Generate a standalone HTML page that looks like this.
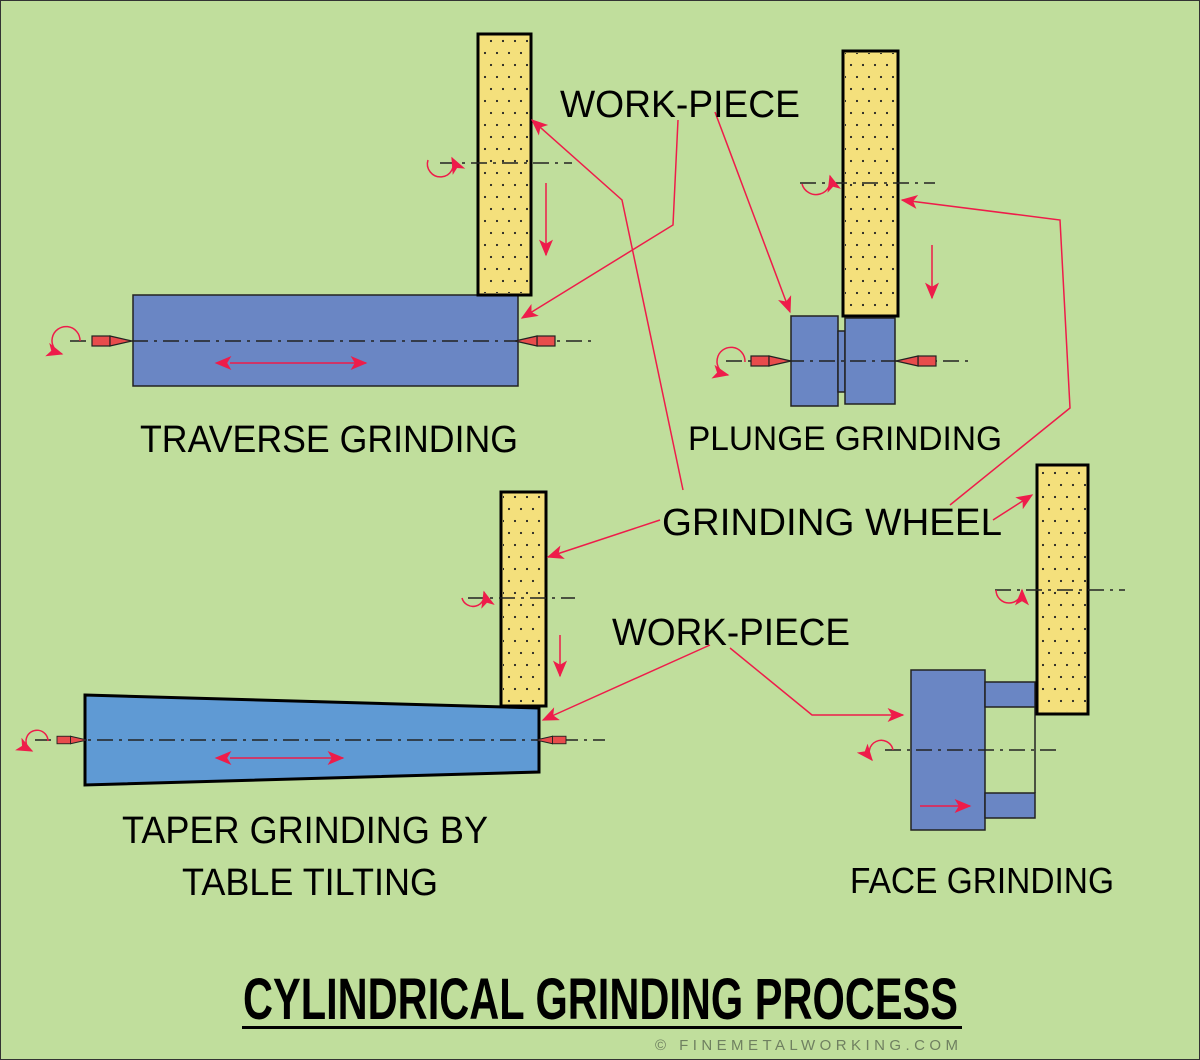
<!DOCTYPE html>
<html><head><meta charset="utf-8"><style>
html,body{margin:0;padding:0;background:#c0de9c}
svg{display:block}
text{font-family:"Liberation Sans",sans-serif}
</style></head><body>
<svg width="1200" height="1060" viewBox="0 0 1200 1060" xmlns="http://www.w3.org/2000/svg">
<defs>
<pattern id="dots" width="24" height="24" patternUnits="userSpaceOnUse">
<circle cx="5" cy="5" r="1.1" fill="#222"/><circle cx="17" cy="5" r="1.1" fill="#222"/>
<circle cx="11" cy="17" r="1.1" fill="#222"/><circle cx="23" cy="17" r="1.1" fill="#222"/>
</pattern>
<marker id="ah" viewBox="0 0 12 10" refX="11" refY="5" markerWidth="18" markerHeight="14" orient="auto" markerUnits="userSpaceOnUse">
<path d="M0,0 L12,5 L0,10 L3,5 z" fill="#ee1c4a"/></marker>
<marker id="ahs" viewBox="0 0 12 10" refX="1" refY="5" markerWidth="18" markerHeight="14" orient="auto-start-reverse" markerUnits="userSpaceOnUse">
<path d="M0,0 L12,5 L0,10 L3,5 z" fill="#ee1c4a"/></marker>
<g id="cenL"><rect x="0" y="-5" width="18" height="10" fill="#e84c4c" stroke="#222" stroke-width="1.2"/><path d="M18,-5 L40,0 L18,5 z" fill="#e84c4c" stroke="#222" stroke-width="1.2"/></g>
</defs>
<rect x="0" y="0" width="1200" height="1060" fill="#c0de9c"/>
<rect x="0.5" y="0.5" width="1199" height="1059" fill="none" stroke="#333" stroke-width="1"/>

<g fill="none" stroke="#ee1c4a" stroke-width="1.5">
<!-- traverse -->
<rect x="133" y="295" width="385" height="91" fill="#6a86c4" stroke="#222"/>
<line x1="70" y1="341" x2="595" y2="341" stroke="#222" stroke-dasharray="16,6,3,6"/>
<use href="#cenL" x="92" y="341"/>
<use href="#cenL" x="-555" y="341" transform="scale(-1,1)"/>
<path d="M80,341 A14,14 0 1 0 62,354" marker-end="url(#ah)"/>
<line x1="230" y1="363" x2="366" y2="363" marker-start="url(#ahs)" marker-end="url(#ah)"/>
<rect x="478" y="34" width="53" height="261" fill="#f4e07c" stroke="#000" stroke-width="3"/>
<rect x="480" y="36" width="49" height="257" fill="url(#dots)" stroke="none"/>
<line x1="440" y1="163" x2="572" y2="163" stroke="#222" stroke-dasharray="16,6,3,6"/>
<path d="M428,160 A13,13 0 1 0 452,158" marker-end="url(#ah)"/>
<line x1="546" y1="183" x2="546" y2="255" marker-end="url(#ah)"/>

<!-- plunge -->
<rect x="843" y="51" width="55" height="265" fill="#f4e07c" stroke="#000" stroke-width="3"/>
<rect x="845" y="53" width="51" height="261" fill="url(#dots)" stroke="none"/>
<line x1="800" y1="183" x2="935" y2="183" stroke="#222" stroke-dasharray="16,6,3,6"/>
<path d="M802,184 A14,14 0 1 0 830,176" marker-end="url(#ah)"/>
<line x1="932" y1="245" x2="932" y2="298" marker-end="url(#ah)"/>
<rect x="791" y="316" width="47" height="90" fill="#6a86c4" stroke="#222"/>
<rect x="838" y="331" width="7" height="61" fill="#6a86c4" stroke="#222"/>
<rect x="845" y="318" width="50" height="86" fill="#6a86c4" stroke="#222"/>
<line x1="726" y1="361" x2="968" y2="361" stroke="#222" stroke-dasharray="16,6,3,6"/>
<use href="#cenL" x="751" y="361"/>
<use href="#cenL" x="-936" y="361" transform="scale(-1,1)"/>
<path d="M745,362 A14,14 0 1 0 728,375" marker-end="url(#ah)"/>

<!-- taper -->
<polygon points="85,695 539,708 539,772 85,785" fill="#5f9ad4" stroke="#000" stroke-width="3"/>
<line x1="35" y1="740" x2="605" y2="740" stroke="#222" stroke-dasharray="16,6,3,6"/>
<g transform="translate(57,740) scale(0.75)"><use href="#cenL"/></g>
<g transform="translate(566,740) scale(-0.75,0.75)"><use href="#cenL"/></g>
<path d="M48,741 A11,11 0 1 0 32,751" marker-end="url(#ah)"/>
<line x1="230" y1="758" x2="343" y2="758" marker-start="url(#ahs)" marker-end="url(#ah)"/>
<rect x="501" y="492" width="45" height="214" fill="#f4e07c" stroke="#000" stroke-width="3"/>
<rect x="503" y="494" width="41" height="210" fill="url(#dots)" stroke="none"/>
<line x1="468" y1="598" x2="575" y2="598" stroke="#222" stroke-dasharray="16,6,3,6"/>
<path d="M462,598 A11,11 0 1 0 484,592" marker-end="url(#ah)"/>
<line x1="560" y1="635" x2="560" y2="676" marker-end="url(#ah)"/>

<!-- face -->
<rect x="911" y="670" width="74" height="160" fill="#6a86c4" stroke="#222"/>
<rect x="985" y="682" width="50" height="25" fill="#6a86c4" stroke="#222"/>
<rect x="985" y="793" width="50" height="25" fill="#6a86c4" stroke="#222"/>
<line x1="1035" y1="707" x2="1035" y2="793" stroke="#222"/>
<rect x="1037" y="465" width="51" height="249" fill="#f4e07c" stroke="#000" stroke-width="3"/>
<rect x="1039" y="467" width="47" height="245" fill="url(#dots)" stroke="none"/>
<line x1="995" y1="590" x2="1125" y2="590" stroke="#222" stroke-dasharray="16,6,3,6"/>
<path d="M996,590 A13,13 0 1 0 1022,590" marker-end="url(#ah)"/>
<line x1="885" y1="750" x2="1060" y2="750" stroke="#222" stroke-dasharray="16,6,3,6"/>
<path d="M893,750 A12,12 0 1 0 872,760" marker-end="url(#ah)"/>
<line x1="920" y1="806" x2="970" y2="806" marker-end="url(#ah)"/>

<!-- leader lines -->
<polyline points="678,120 673,225 522,318" marker-end="url(#ah)"/>
<polyline points="715,112 790,312" marker-end="url(#ah)"/>
<polyline points="683,490 622,200 532,120" marker-end="url(#ah)"/>
<polyline points="950,505 1070,408 1060,220 902,200" marker-end="url(#ah)"/>
<polyline points="993,520 1032,495" marker-end="url(#ah)"/>
<polyline points="660,520 548,557" marker-end="url(#ah)"/>
<polyline points="710,645 543,720" marker-end="url(#ah)"/>
<polyline points="730,648 812,715 903,715" marker-end="url(#ah)"/>
</g>

<g fill="#000" font-size="38">
<text x="560" y="117" textLength="240" lengthAdjust="spacingAndGlyphs">WORK-PIECE</text>
<text x="140" y="452" textLength="378" lengthAdjust="spacingAndGlyphs">TRAVERSE GRINDING</text>
<text x="688" y="450" font-size="34" textLength="314" lengthAdjust="spacingAndGlyphs">PLUNGE GRINDING</text>
<text x="662" y="535" textLength="340" lengthAdjust="spacingAndGlyphs">GRINDING WHEEL</text>
<text x="612" y="645" textLength="238" lengthAdjust="spacingAndGlyphs">WORK-PIECE</text>
<text x="122" y="843" textLength="366" lengthAdjust="spacingAndGlyphs">TAPER GRINDING BY</text>
<text x="182" y="895" textLength="256" lengthAdjust="spacingAndGlyphs">TABLE TILTING</text>
<text x="850" y="893" font-size="36" textLength="264" lengthAdjust="spacingAndGlyphs">FACE GRINDING</text>
<text x="243" y="1019" font-size="58" font-weight="bold" style="font-family:'Liberation Sans Narrow','Liberation Sans',sans-serif" textLength="715" lengthAdjust="spacingAndGlyphs">CYLINDRICAL GRINDING PROCESS</text>
<text x="655" y="1050" font-size="15" fill="#6f8060" textLength="303" lengthAdjust="spacing">© FINEMETALWORKING.COM</text>
</g>
<rect x="242" y="1026" width="720" height="3" fill="#000"/>
</svg>
</body></html>
